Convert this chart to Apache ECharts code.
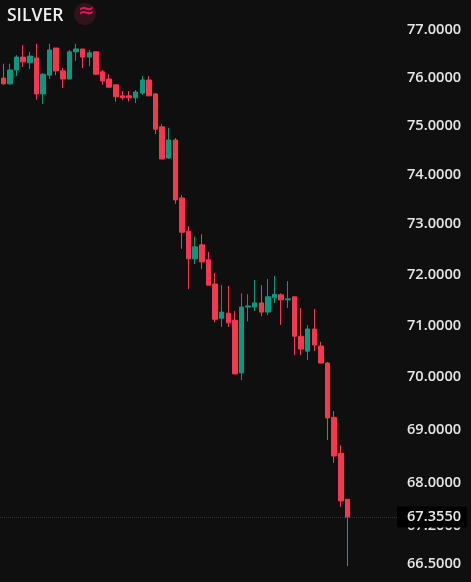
<!DOCTYPE html>
<html>
<head>
<meta charset="utf-8">
<style>
  html, body { margin: 0; padding: 0; background: #0f0f0f; }
  #chart { width: 471px; height: 582px; }
</style>
<script src="https://cdn.jsdelivr.net/npm/echarts@6/dist/echarts.min.js"></script>
</head>
<body>
<div id="chart"></div>
<script>
// silver candles, prices
const opens = [75.99,75.87,76.16,76.43,76.31,76.41,75.66,76.05,76.62,76.14,75.97,76.54,76.60,76.43,76.54,76.12,75.97,75.85,75.62,75.62,75.58,75.68,75.95,75.66,74.98,74.34,74.71,73.53,72.86,72.31,72.59,72.29,71.81,71.14,71.24,71.10,70.08,71.36,71.36,71.44,71.26,71.54,71.60,71.50,71.56,70.79,70.50,70.93,70.60,70.27,69.23,68.55,67.69];
const closes = [75.87,76.16,76.43,76.33,76.45,75.66,76.07,76.58,76.14,75.97,76.54,76.60,76.43,76.52,76.07,75.93,75.80,75.60,75.58,75.58,75.70,75.95,75.62,74.93,74.32,74.71,73.49,72.84,72.31,72.55,72.25,71.79,71.12,71.26,71.05,70.06,71.36,71.38,71.44,71.26,71.56,71.61,71.50,71.52,70.79,70.54,70.93,70.62,70.27,69.22,68.50,67.66,67.355];
const lows = [75.85,75.85,76.03,76.22,76.18,75.54,75.45,75.97,76.05,75.78,75.97,76.35,76.20,76.24,76.05,75.85,75.80,75.50,75.54,75.50,75.47,75.64,75.62,74.83,74.32,74.32,73.41,72.51,71.71,72.21,72.11,71.79,71.06,70.97,70.97,70.06,69.94,71.08,71.28,71.18,71.20,71.44,71.01,71.34,70.42,70.42,70.33,70.50,70.27,68.80,68.37,67.55,66.46];
const highs = [76.29,76.29,76.47,76.68,76.54,76.71,76.09,76.71,76.62,76.20,76.58,76.71,76.60,76.58,76.54,76.16,76.07,75.85,75.72,75.72,75.74,76.03,76.03,75.68,75.04,74.96,74.75,73.59,72.96,72.75,72.80,72.45,72.03,71.79,71.77,71.28,71.63,71.61,71.89,71.79,71.91,71.97,71.63,71.87,71.56,71.34,71.01,71.32,70.68,70.29,69.35,68.70,67.69];
const tickValues = [66.5,67.2,68,69,70,71,72,73,74,75,76,77];
const lastPrice = 67.355;
const emptySlots = 7; // room on the right of the last candle

const categories = opens.map((_, i) => i);
for (let i = 0; i < emptySlots; i++) categories.push(opens.length + i);
const candles = opens.map((o, i) => [o, closes[i], lows[i], highs[i]]);

const up = '#089981', down = '#f7374f';
const chart = echarts.init(document.getElementById('chart'));
chart.setOption({
  backgroundColor: '#0f0f0f',
  animation: false,
  grid: { left: 0, right: 74, top: 0, bottom: 0 },
  xAxis: { type: 'category', data: categories, show: false },
  yAxis: {
    type: 'log',
    position: 'right',
    min: 66.17,
    max: 77.637,
    splitLine: { show: false },
    axisLine: { show: false },
    axisTick: { show: false },
    axisLabel: {
      customValues: tickValues,
      inside: false,
      margin: 10,
      color: '#e6e6e6',
      fontFamily: 'Open Sans',
      fontSize: 14.6,
      fontWeight: 600,
      formatter: v => Number(v).toFixed(4)
    }
  },
  series: [{
    type: 'candlestick',
    data: candles,
    barWidth: 5,
    itemStyle: { color: up, color0: down, borderColor: up, borderColor0: down, borderWidth: 1 },
    markLine: {
      silent: true,
      symbol: 'none',
      animation: false,
      lineStyle: { color: '#333', type: 'dotted', width: 1 },
      label: {
        position: 'end',
        distance: 0,
        formatter: lastPrice.toFixed(4),
        color: '#e6e6e6',
        fontFamily: 'Open Sans',
        fontSize: 14.6,
        fontWeight: 600,
        lineHeight: 17,
        backgroundColor: '#000',
        padding: [2, 6, 2, 10]
      },
      data: [{ yAxis: lastPrice }]
    }
  }],
  graphic: [
    { type: 'text', left: 7, top: 7, style: { text: 'SILVER', fill: '#f0f0f0', font: '600 17.5px "Open Sans"' } },
    { type: 'circle', shape: { cx: 85, cy: 14, r: 11 }, style: { fill: '#34121c' } },
    { type: 'text', left: 78, top: 2, style: { text: '≈', fill: '#d81b55', font: '700 20px "DejaVu Sans"' } }
  ]
});
</script>
</body>
</html>
